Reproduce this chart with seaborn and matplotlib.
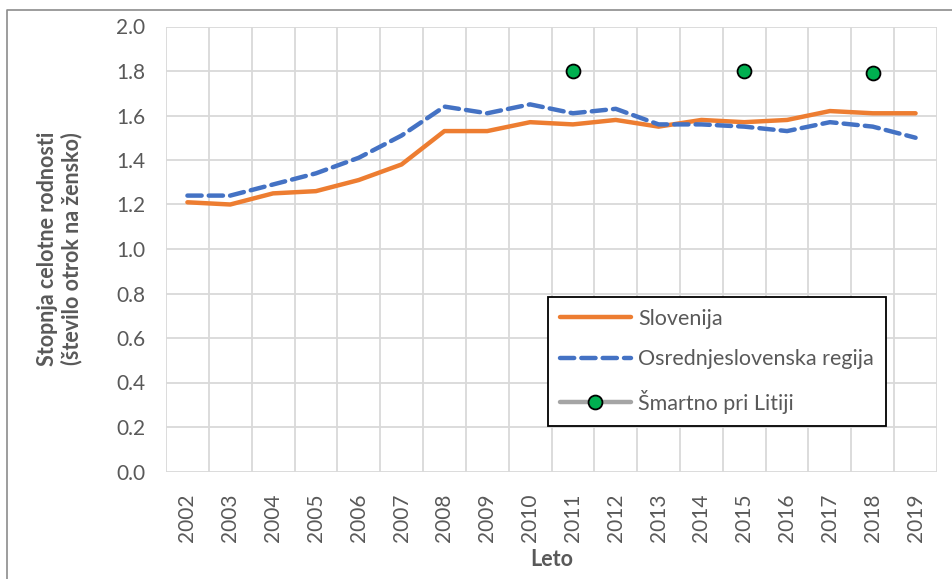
import numpy as np
import pandas as pd
import matplotlib
matplotlib.use("Agg")
import matplotlib.pyplot as plt
from matplotlib.lines import Line2D
import seaborn as sns

years = [str(y) for y in range(2002, 2020)]
slovenija = [1.21, 1.20, 1.25, 1.26, 1.31, 1.38, 1.53, 1.53, 1.57,
             1.56, 1.58, 1.55, 1.58, 1.57, 1.58, 1.62, 1.61, 1.61]
osrednjeslovenska = [1.24, 1.24, 1.29, 1.34, 1.41, 1.51, 1.64, 1.61, 1.65,
                     1.61, 1.63, 1.56, 1.56, 1.55, 1.53, 1.57, 1.55, 1.50]
smartno_years = ["2011", "2015", "2018"]
smartno = [1.80, 1.80, 1.79]

TEXT = "#595959"
GRID = "#d9d9d9"

sns.set_style("white")
plt.rcParams["font.family"] = ["Lato", "DejaVu Sans"]

df = pd.DataFrame({"Leto": years, "pos": np.arange(len(years)),
                   "Slovenija": slovenija,
                   "Osrednjeslovenska regija": osrednjeslovenska})
sm = pd.Series(np.nan, index=years)
sm[smartno_years] = smartno

fig = plt.figure(figsize=(9.52, 5.79), dpi=100)
ax = fig.add_axes([166 / 952, 1 - 471.5 / 579, (937 - 166) / 952, 445 / 579])

sns.lineplot(data=df, x="pos", y="Slovenija", ax=ax, color="#ED7D31", lw=3.2,
             solid_capstyle="round", zorder=3)
sns.lineplot(data=df, x="pos", y="Osrednjeslovenska regija", ax=ax,
             color="#4472C4", lw=3.2, dashes=(3.2, 1.6), dash_capstyle="round",
             zorder=3)
ax.plot(df["pos"], sm.values, color="#A5A5A5", lw=3.2, marker="o", ms=10,
        mfc="#00B050", mec="black", mew=1.3, zorder=4)

n = len(years)
ax.set_xlim(-0.5, n - 0.5)
ax.set_ylim(0, 2.0)
ax.set_yticks(np.arange(0, 2.01, 0.2))
ax.set_yticklabels([f"{v:.1f}" for v in np.arange(0, 2.01, 0.2)])
ax.set_xticks(np.arange(n))
ax.set_xticklabels(years, rotation=90)
ax.set_xticks(np.arange(n + 1) - 0.5, minor=True)

ax.grid(False)
ax.yaxis.grid(True, color=GRID, lw=1.3)
ax.xaxis.grid(True, which="minor", color=GRID, lw=1.3)
for s in ax.spines.values():
    s.set_visible(False)
ax.tick_params(axis="x", which="major", length=0, pad=16, labelsize=15, labelcolor=TEXT)
ax.tick_params(axis="x", which="minor", length=7, width=1.3, color=GRID, direction="out")
ax.tick_params(axis="y", length=0, pad=15, labelsize=15, labelcolor=TEXT)

ax.set_xlabel("Leto", fontsize=15.5, fontweight="bold", color=TEXT, labelpad=5)
ax.set_ylabel("Stopnja celotne rodnosti\n(število otrok na žensko)", fontsize=15.5,
              fontweight="bold", color=TEXT, labelpad=24, linespacing=1.15)

handles = [
    Line2D([], [], color="#ED7D31", lw=3.2, solid_capstyle="round"),
    Line2D([], [], color="#4472C4", lw=3.2, dashes=(3.2, 1.6), dash_capstyle="round"),
    Line2D([], [], color="#A5A5A5", lw=3.2, marker="o", ms=10, mfc="#00B050",
           mec="black", mew=1.3, solid_capstyle="round"),
]
labels = ["Slovenija", "Osrednjeslovenska regija", "Šmartno pri Litiji"]
leg = ax.legend(handles, labels, loc="upper left",
                bbox_to_anchor=((548 - 166) / 771, (471.5 - 297) / 445),
                borderaxespad=0, frameon=True, fancybox=False, fontsize=15.5,
                handlelength=3.3, labelspacing=0.95, borderpad=0.55,
                handletextpad=0.35, edgecolor="black", framealpha=1)
leg.get_frame().set_linewidth(1.3)
for t in leg.get_texts():
    t.set_color(TEXT)

# outer chart border (top and left visible)
fig.add_artist(Line2D([7 / 952, 7 / 952, 1], [0, 1 - 10 / 579, 1 - 10 / 579],
                      color="#8c8c8c", lw=1.2))

fig.savefig("out.png", dpi=100)
